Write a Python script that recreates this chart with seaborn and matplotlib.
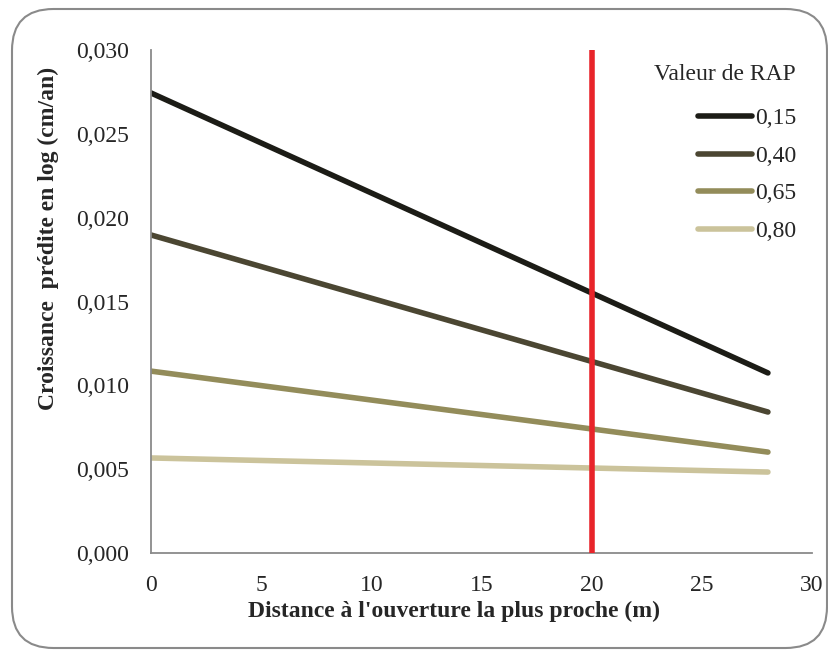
import numpy as np
import pandas as pd
import matplotlib
matplotlib.use("Agg")
import matplotlib.pyplot as plt
import seaborn as sns
from matplotlib.patches import FancyBboxPatch

# Data
distance = [0, 28]
rap_labels = ["0,15", "0,40", "0,65", "0,80"]
rap_015 = [0.02744, 0.01074]
rap_040 = [0.01897, 0.00841]
rap_065 = [0.01085, 0.00602]
rap_080 = [0.00567, 0.00483]
threshold_x = 20
colors = ["#1c1c16", "#4b4632", "#938c5a", "#cbc39b"]

xticks = [0, 5, 10, 15, 20, 25, 30]
yticks = [0.000, 0.005, 0.010, 0.015, 0.020, 0.025, 0.030]
ytick_labels = ["0,000", "0,005", "0,010", "0,015", "0,020", "0,025", "0,030"]

series = [rap_015, rap_040, rap_065, rap_080]
df = pd.DataFrame({
    "Distance": distance * len(series),
    "Croissance": sum(series, []),
    "RAP": sum([[lab] * len(distance) for lab in rap_labels], []),
})

sns.set_style("white")
plt.rcParams["font.family"] = ["Liberation Serif", "DejaVu Serif"]

fig = plt.figure(figsize=(8.29, 6.53), dpi=100)
ax = fig.add_axes([0.1821, 0.1531, 0.7974, 0.7703])

sns.lineplot(data=df, x="Distance", y="Croissance", hue="RAP",
             palette=colors, linewidth=4, ax=ax, legend=True,
             solid_capstyle="round")

ax.axvline(threshold_x, color="#e8242a", linewidth=4, zorder=5,
           solid_capstyle="butt")

ax.set_xlim(0, 30)
ax.set_ylim(0, 0.030)
ax.set_xticks(xticks)
ax.set_xticklabels([str(x) for x in xticks], fontsize=17)
ax.set_yticks(yticks)
ax.set_yticklabels(ytick_labels, fontsize=17)
ax.tick_params(axis="both", direction="out", length=6, width=1.2,
               color="#8a8a8a")
ax.tick_params(axis="x", pad=10)
ax.tick_params(axis="y", pad=10)

for side in ["top", "right"]:
    ax.spines[side].set_visible(False)
for side in ["left", "bottom"]:
    ax.spines[side].set_color("#8a8a8a")
    ax.spines[side].set_linewidth(1.3)

ax.set_xlabel("Distance à l'ouverture la plus proche (m)", fontsize=17,
              fontweight="bold")
ax.set_ylabel("Croissance  prédite en log (cm/an)", fontsize=17,
              fontweight="bold")
ax.xaxis.set_label_coords(0.458, -0.095)
ax.yaxis.set_label_coords(-0.139, 0.625)

handles, labels = ax.get_legend_handles_labels()
leg = ax.legend(handles, labels, title="Valeur de RAP", loc="upper right",
                bbox_to_anchor=(0.99, 0.99), frameon=False, fontsize=17,
                title_fontsize=17, handlelength=2.3, handletextpad=0.1,
                labelspacing=0.68, borderaxespad=0, alignment="right")
leg._legend_box.sep = 16
for h in leg.get_lines():
    h.set_linewidth(4)
    h.set_solid_capstyle("round")

border = FancyBboxPatch((12 / 829, 5 / 653), 815 / 829, 639 / 653,
                        boxstyle="round,pad=0,rounding_size=0.05",
                        transform=fig.transFigure, fill=False,
                        edgecolor="#8a8a8a", linewidth=1.5,
                        mutation_aspect=829 / 653)
fig.patches.append(border)

fig.savefig("out.png", dpi=100)
